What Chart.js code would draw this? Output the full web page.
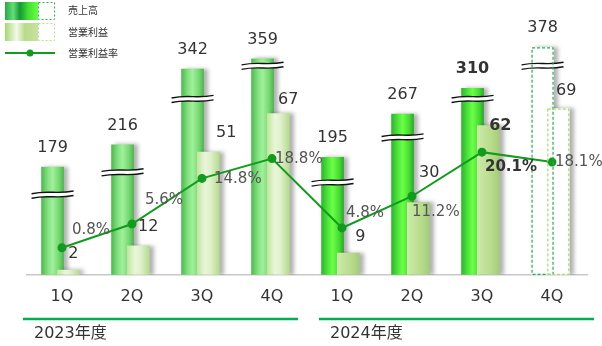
<!DOCTYPE html>
<html lang="ja">
<head>
<meta charset="utf-8">
<title>売上高・営業利益の推移</title>
<script src="https://cdn.jsdelivr.net/npm/chart.js@4.4.1/dist/chart.umd.min.js"></script>
<style>
  html, body { margin: 0; padding: 0; background: #fff; }
  #chart { display: block; }
</style>
</head>
<body>
<canvas id="chart" width="602" height="346"></canvas>
<script>
// 四半期ごとの売上高・営業利益（億円）と営業利益率（%）、2024年度4Qは見通し
const quarters = ['1Q', '2Q', '3Q', '4Q', '1Q', '2Q', '3Q', '4Q'];
const fiscalYears = ['2023年度', '2024年度'];
const sales = [179, 216, 342, 359, 195, 267, 310, 378];
const operatingProfit = [2, 12, 51, 67, 9, 30, 62, 69];
const profitMargin = [0.8, 5.6, 14.8, 18.8, 4.8, 11.2, 20.1, 18.1];
const forecastIndex = 7;
const latestIndex = 6;

const FONT = '"DejaVu Sans", "Noto Sans CJK JP", sans-serif';
const JP_FONT = '"Noto Sans CJK JP", sans-serif';
const LINE_GREEN = '#129c1e';

// 棒の横位置（四半期の中心からのずれ）と太さ
const SALES_SHIFT = -0.135;
const PROFIT_SHIFT = 0.09;
const BAR_W = 22;

const salesStops = [
  [[0, '#4dbb4d'], [0.3, '#86e283'], [0.5, '#a0f09a'], [0.8, '#74d870'], [1, '#4fb64f']],
  [[0, '#2fb52f'], [0.3, '#4fe83c'], [0.5, '#6cff46'], [0.8, '#45dd33'], [1, '#2ea82e']]
];
const profitStops = [
  [[0, '#c2e59e'], [0.35, '#e9f6da'], [0.6, '#dff1cb'], [1, '#b6da8e']],
  [[0, '#cde9aa'], [0.3, '#c3e39b'], [0.7, '#b5d989'], [1, '#a5cc79']]
];

function cylinder(ctx, x0, w, stops) {
  const g = ctx.createLinearGradient(x0, 0, x0 + w, 0);
  stops.forEach(([p, c]) => g.addColorStop(p, c));
  return g;
}

function barFill(stopsByYear, shift) {
  return (c) => {
    const chart = c.chart;
    if (!chart.chartArea || c.dataIndex === undefined) return stopsByYear[0][2][1];
    if (c.dataIndex === forecastIndex) return '#ffffff';
    const x = chart.scales.x.getPixelForValue(c.dataIndex + shift);
    return cylinder(chart.ctx, x - BAR_W / 2, BAR_W, stopsByYear[c.dataIndex < 4 ? 0 : 1]);
  };
}

// 売上高の棒に入れる省略線（売上高の目盛りでの位置）
const salesBreaks = [133, 170, 292, 347, 153, 228, 292, 347];

function drawBreak(ctx, cx, y) {
  const half = 21, gap = 4.5;
  const l = cx - half, r = cx + half;
  const curve = (off) => {
    ctx.moveTo(l, y + off + 1.2);
    ctx.bezierCurveTo(l + half * 0.8, y + off - 2.5, r - half * 0.8, y + off + 2, r, y + off - 1.5);
  };
  ctx.save();
  ctx.beginPath();
  ctx.moveTo(l, y - gap / 2 + 1.2);
  ctx.bezierCurveTo(l + half * 0.8, y - gap / 2 - 2.5, r - half * 0.8, y - gap / 2 + 2, r, y - gap / 2 - 1.5);
  ctx.lineTo(r, y + gap / 2 - 1.5);
  ctx.bezierCurveTo(r - half * 0.8, y + gap / 2 + 2, l + half * 0.8, y + gap / 2 - 2.5, l, y + gap / 2 + 1.2);
  ctx.closePath();
  ctx.fillStyle = '#ffffff';
  ctx.fill();
  ctx.beginPath();
  curve(-gap / 2);
  curve(gap / 2);
  ctx.strokeStyle = '#111';
  ctx.lineWidth = 1.4;
  ctx.stroke();
  ctx.restore();
}

// 棒の影と省略線
const barDecor = {
  id: 'barDecor',
  beforeDatasetDraw(chart, args) {
    if (args.meta.type !== 'bar') return;
    const ctx = chart.ctx;
    ctx.save();
    ctx.shadowColor = 'rgba(0, 0, 0, 0.3)';
    ctx.shadowBlur = 4;
    ctx.shadowOffsetX = 4;
    ctx.shadowOffsetY = 0;
  },
  afterDatasetDraw(chart, args) {
    if (args.meta.type !== 'bar') return;
    chart.ctx.restore();
    if (args.index === 2) {
      const yS = chart.scales.ySales;
      args.meta.data.forEach((el, i) => drawBreak(chart.ctx, el.x, yS.getPixelForValue(salesBreaks[i])));
    }
  }
};

// 見通しの点線枠と数値ラベル
const profitLabelOffset = [[5, -16], [10, -19], [18, -19], [10, -14], [12, -16], [11, -30], [12, 0], [8, -18]];
const rateLabelOffset = [[10, -18], [13, -24], [12, 1], [3, 1], [4, -15], [0, 16], [3, 15], [3, 0]];

const valueLabels = {
  id: 'valueLabels',
  afterDatasetsDraw(chart) {
    const ctx = chart.ctx;
    const rateMeta = chart.getDatasetMeta(0);
    const profitMeta = chart.getDatasetMeta(1);
    const salesMeta = chart.getDatasetMeta(2);

    ctx.save();
    ctx.setLineDash([3, 2]);
    ctx.lineWidth = 1.2;
    [[salesMeta, '#22aa55'], [profitMeta, '#a9dd72']].forEach(([meta, color]) => {
      const el = meta.data[forecastIndex];
      ctx.strokeStyle = color;
      ctx.strokeRect(el.x - el.width / 2 + 0.5, el.y + 0.5, el.width - 1, el.base - el.y - 1);
    });
    ctx.restore();

    ctx.save();
    ctx.fillStyle = '#333';
    sales.forEach((v, i) => {
      const el = salesMeta.data[i];
      ctx.font = (i === latestIndex ? 'bold ' : '') + '16px ' + FONT;
      ctx.textAlign = 'center';
      ctx.textBaseline = 'alphabetic';
      ctx.fillText(String(v), el.x, el.y - 15);
    });
    operatingProfit.forEach((v, i) => {
      const el = profitMeta.data[i];
      const [dx, dy] = profitLabelOffset[i];
      ctx.font = (i === latestIndex ? 'bold ' : '') + '16px ' + FONT;
      ctx.textAlign = 'center';
      ctx.textBaseline = 'middle';
      ctx.fillText(String(v), el.x + dx, el.y + dy);
    });
    profitMargin.forEach((v, i) => {
      const pt = rateMeta.data[i];
      const [dx, dy] = rateLabelOffset[i];
      ctx.font = (i === latestIndex ? 'bold ' : '') + '15px ' + FONT;
      ctx.fillStyle = i === latestIndex ? '#333' : '#555';
      ctx.textAlign = 'left';
      ctx.textBaseline = 'middle';
      ctx.fillText(v.toFixed(1) + '%', pt.x + dx, pt.y + dy);
    });
    ctx.restore();
  }
};

// 凡例と年度の区切り
const legendAndYears = {
  id: 'legendAndYears',
  afterDraw(chart) {
    const ctx = chart.ctx;
    ctx.save();

    ctx.fillStyle = cylinder(ctx, 5, 33, [[0, '#22aa44'], [0.25, '#66dd77'], [0.45, '#139935'], [0.7, '#44dd33'], [1, '#66ff44']]);
    ctx.fillRect(5, 2, 33, 18);
    ctx.fillStyle = cylinder(ctx, 5, 33, [[0, '#a6d86e'], [0.35, '#f2f9ea'], [0.6, '#b9dc88'], [1, '#c8e1a2']]);
    ctx.fillRect(5, 23, 33, 18);
    ctx.setLineDash([2, 2]);
    ctx.lineWidth = 1;
    ctx.strokeStyle = '#2bb35a';
    ctx.strokeRect(38.5, 2.5, 16, 17);
    ctx.strokeStyle = '#b6e08a';
    ctx.strokeRect(38.5, 23.5, 16, 17);
    ctx.setLineDash([]);

    ctx.strokeStyle = LINE_GREEN;
    ctx.lineWidth = 2;
    ctx.beginPath();
    ctx.moveTo(5, 53);
    ctx.lineTo(55, 53);
    ctx.stroke();
    ctx.fillStyle = LINE_GREEN;
    ctx.beginPath();
    ctx.arc(30, 53, 3.5, 0, Math.PI * 2);
    ctx.fill();

    ctx.fillStyle = '#333';
    ctx.font = '10px ' + JP_FONT;
    ctx.textAlign = 'left';
    ctx.textBaseline = 'middle';
    chart.data.datasets.slice().reverse().forEach((ds, i) => ctx.fillText(ds.label, 68, [10, 32, 53][i]));

    // 年度ごとの下線とラベル
    const x = chart.scales.x;
    ctx.strokeStyle = '#00b050';
    ctx.lineWidth = 2.5;
    ctx.font = '16px ' + FONT;
    fiscalYears.forEach((label, k) => {
      const l = x.getPixelForValue(k * 4 - 0.5) + (k === 0 ? -4 : 12);
      const r = x.getPixelForValue(k * 4 + 3.5) + (k === 0 ? -9 : 7);
      ctx.beginPath();
      ctx.moveTo(l, 319);
      ctx.lineTo(r, 319);
      ctx.stroke();
      ctx.fillText(label, l + 11, 334);
    });
    ctx.restore();
  }
};

new Chart(document.getElementById('chart'), {
  type: 'bar',
  data: {
    datasets: [
      {
        type: 'line',
        label: '営業利益率',
        data: profitMargin.map((v, i) => ({ x: i, y: v })),
        yAxisID: 'yRate',
        borderColor: LINE_GREEN,
        backgroundColor: LINE_GREEN,
        borderWidth: 2,
        pointRadius: 3.5,
        pointHoverRadius: 3.5,
        tension: 0,
        order: 0
      },
      {
        label: '営業利益',
        data: operatingProfit.map((v, i) => ({ x: i + PROFIT_SHIFT, y: v })),
        yAxisID: 'yProfit',
        backgroundColor: barFill(profitStops, PROFIT_SHIFT),
        order: 1
      },
      {
        label: '売上高',
        data: sales.map((v, i) => ({ x: i + SALES_SHIFT, y: v })),
        yAxisID: 'ySales',
        backgroundColor: barFill(salesStops, SALES_SHIFT),
        order: 2
      }
    ]
  },
  options: {
    responsive: false,
    animation: false,
    layout: { padding: { top: 10, left: 27, right: 15, bottom: 28 } },
    datasets: {
      bar: { grouped: false, barThickness: BAR_W, borderWidth: 0 }
    },
    scales: {
      x: {
        type: 'linear',
        offset: false,
        min: -0.5,
        max: 7.5,
        afterBuildTicks: (axis) => { axis.ticks = quarters.map((_, i) => ({ value: i })); },
        grid: { display: false, drawTicks: false },
        border: { color: '#c8c8c8', width: 1.5 },
        ticks: {
          padding: 12,
          color: '#333',
          autoSkip: false,
          maxRotation: 0,
          font: { family: FONT, size: 16 },
          callback: (v) => quarters[v] ?? ''
        }
      },
      yProfit: { display: false, min: 0, max: 110 },
      ySales: { display: false, min: 0, max: 440 },
      yRate: { display: false, min: -4.66, max: 48.8 }
    },
    plugins: {
      legend: { display: false },
      tooltip: { enabled: false }
    }
  },
  plugins: [barDecor, valueLabels, legendAndYears]
});
</script>
</body>
</html>
